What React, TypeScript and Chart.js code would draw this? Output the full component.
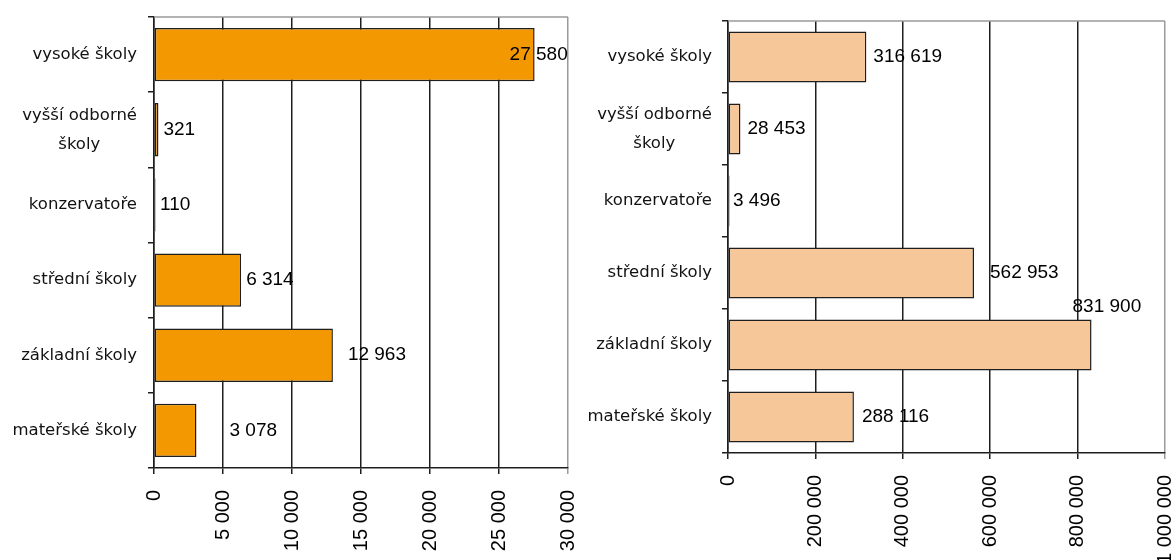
import React, { useEffect, useRef } from "react";
import { Chart, registerables } from "chart.js";

Chart.register(...registerables);

// ---- data ----
const NBSP = "\u00a0";
const categories: (string | string[])[] = [
  "vysoké školy",
  ["vyšší odborné", "školy" + NBSP.repeat(7)],
  "konzervatoře",
  "střední školy",
  "základní školy",
  "mateřské školy",
];
const leftValues = [27580, 321, 110, 6314, 12963, 3078];
const rightValues = [316619, 28453, 3496, 562953, 831900, 288116];
const leftAxisMax = 30000;
const leftAxisStep = 5000;
const rightAxisMax = 1000000;
const rightAxisStep = 200000;

// ---- label nudges (px, relative to bar end) ----
const leftLabelNudges = [[-25, 0], [5, 0], [4.5, 0], [5, 0], [15, 0], [33, 0]];
const rightLabelNudges = [[7, 0], [7, 0], [3.5, 0], [16, 0], [-19, -38], [8, 0]];

function fmt(v: number): string {
  return String(Math.round(v)).replace(/\B(?=(\d{3})+(?!\d))/g, " ");
}

const DARK = "#1e1e1e";
const GRAY = "#9a9a9a";

interface Cfg {
  values: number[];
  color: string;
  max: number;
  step: number;
  yAxisWidth: number;
  xAxisHeight: number;
  padTop: number;
  padRight: number;
  yLabelPad: number;
  xLabelPad: number;
  nudges: number[][];
}

function zeroPad(s: any) {
  s.paddingLeft = 0;
  s.paddingRight = 0;
  s.paddingTop = 0;
  s.paddingBottom = 0;
}

function makeConfig(c: Cfg): any {
  const valueLabels = {
    id: "valueLabels",
    beforeDatasetsDraw(chart: any) {
      const { ctx, chartArea } = chart;
      ctx.save();
      ctx.strokeStyle = GRAY;
      ctx.lineWidth = 1.5;
      ctx.beginPath();
      ctx.moveTo(chartArea.left, chartArea.top);
      ctx.lineTo(chartArea.right, chartArea.top);
      ctx.stroke();
      ctx.restore();
    },
    afterDatasetsDraw(chart: any) {
      const { ctx } = chart;
      const meta = chart.getDatasetMeta(0);
      ctx.save();
      ctx.font = '19px "Liberation Sans", Arial, sans-serif';
      ctx.fillStyle = "#000";
      ctx.textAlign = "left";
      ctx.textBaseline = "middle";
      meta.data.forEach((bar: any, i: number) => {
        const n = c.nudges[i] || [0, 0];
        ctx.fillText(fmt(c.values[i]), bar.x + n[0], bar.y + n[1]);
      });
      ctx.restore();
    },
  };

  return {
    type: "bar",
    data: {
      labels: categories,
      datasets: [
        {
          data: c.values,
          backgroundColor: c.color,
          borderColor: DARK,
          borderWidth: 1.5,
          borderSkipped: false,
          barPercentage: 0.71,
          categoryPercentage: 1,
        },
      ],
    },
    options: {
      indexAxis: "y",
      responsive: false,
      animation: false,
      devicePixelRatio: 1,
      layout: { padding: { top: c.padTop, right: c.padRight, left: 0, bottom: 0 } },
      plugins: { legend: { display: false }, tooltip: { enabled: false } },
      scales: {
        x: {
          min: 0,
          max: c.max,
          afterFit: (s: any) => {
            s.height = c.xAxisHeight;
            zeroPad(s);
          },
          ticks: {
            stepSize: c.step,
            autoSkip: false,
            minRotation: 90,
            maxRotation: 90,
            padding: c.xLabelPad,
            color: "#000",
            font: { family: '"Liberation Sans", Arial, sans-serif', size: 20 },
            callback: (v: any) => fmt(Number(v)),
          },
          grid: {
            color: (ctx: any) => (ctx.tick && ctx.tick.value === c.max ? GRAY : DARK),
            lineWidth: 1.5,
            tickLength: 6,
          },
          border: { color: DARK, width: 1.5 },
        },
        y: {
          afterFit: (s: any) => {
            s.width = c.yAxisWidth;
            zeroPad(s);
          },
          ticks: {
            padding: c.yLabelPad,
            color: "#111",
            autoSkip: false,
            font: { family: '"DejaVu Sans", sans-serif', size: 16.5, lineHeight: 1.76 },
          },
          grid: {
            drawOnChartArea: false,
            color: DARK,
            lineWidth: 1.5,
            tickLength: 6,
          },
          border: { color: DARK, width: 1.5 },
        },
      },
    },
    plugins: [valueLabels],
  };
}

function BarPanel(props: { cfg: Cfg; width: number; height: number }) {
  const ref = useRef<HTMLCanvasElement | null>(null);
  useEffect(() => {
    if (!ref.current) return;
    const chart = new Chart(ref.current, makeConfig(props.cfg));
    return () => chart.destroy();
  }, []);
  return (
    <canvas
      ref={ref}
      width={props.width}
      height={props.height}
      style={{ display: "block", width: props.width, height: props.height }}
    />
  );
}

export default function App() {
  const left: Cfg = {
    values: leftValues,
    color: "#f39800",
    max: leftAxisMax,
    step: leftAxisStep,
    yAxisWidth: 154,
    xAxisHeight: 92,
    padTop: 17,
    padRight: 12,
    yLabelPad: 11,
    xLabelPad: 16,
    nudges: leftLabelNudges,
  };
  const right: Cfg = {
    values: rightValues,
    color: "#f6c798",
    max: rightAxisMax,
    step: rightAxisStep,
    yAxisWidth: 148,
    xAxisHeight: 107,
    padTop: 21,
    padRight: 6,
    yLabelPad: 10,
    xLabelPad: 16,
    nudges: rightLabelNudges,
  };
  return (
    <div
      style={{
        position: "absolute",
        left: 0,
        top: 0,
        width: 1171,
        height: 560,
        display: "flex",
        background: "#fff",
        overflow: "hidden",
      }}
    >
      <BarPanel cfg={left} width={580} height={560} />
      <BarPanel cfg={right} width={591} height={560} />
    </div>
  );
}
